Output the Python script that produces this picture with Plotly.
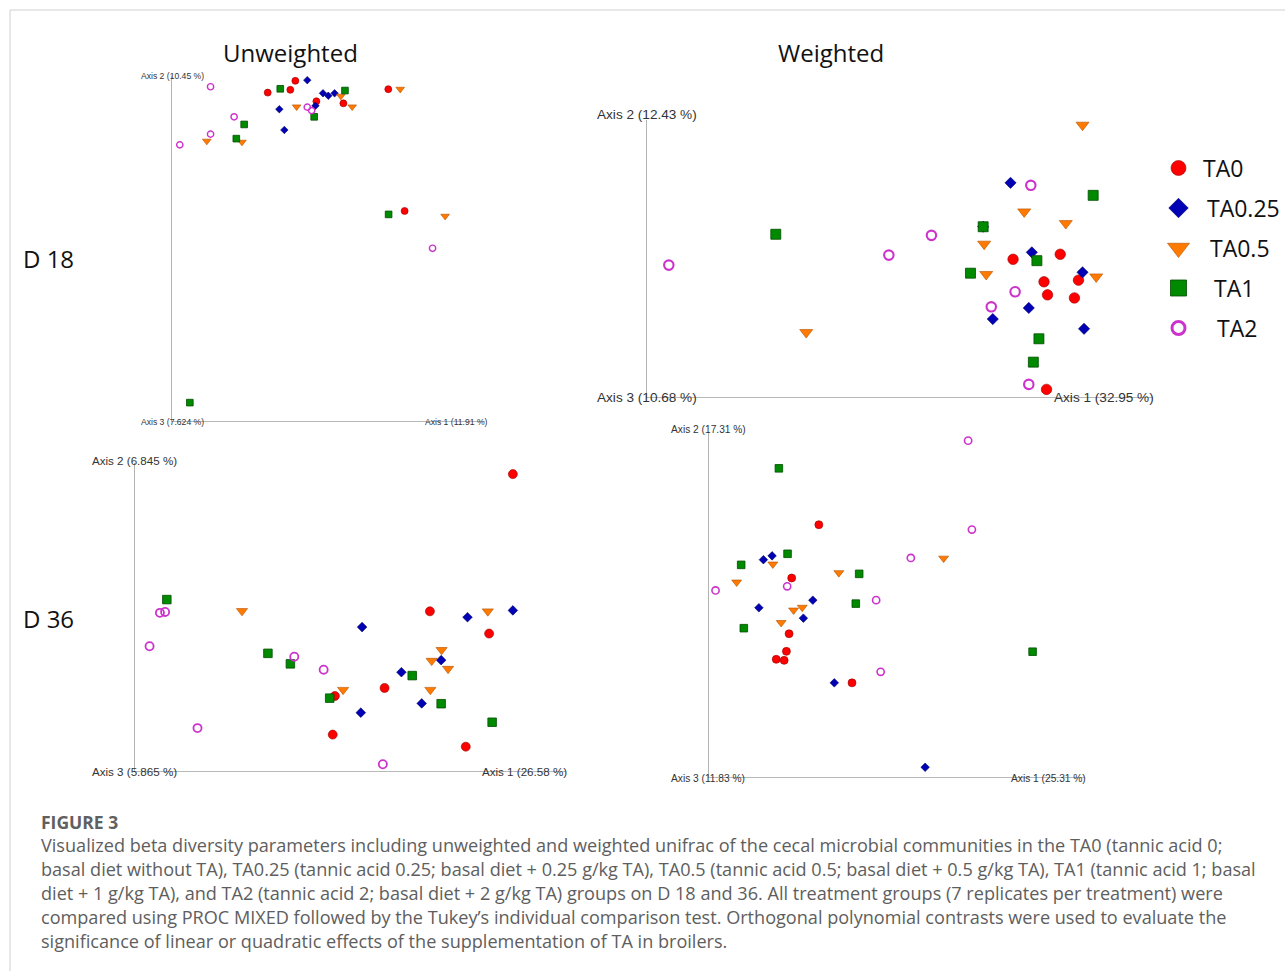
import plotly.graph_objects as go

W, H = 1285, 971

groups = ["TA0", "TA0.25", "TA0.5", "TA1", "TA2"]

# ---- data: PCoA coordinates (Axis 1 = x, Axis 2 = y), scaled to each plot's visible axis length ----
# Panel A: Unweighted, D 18
unw18_x = {
    "TA0":    [0.396, 0.308, 0.380, 0.463, 0.549, 0.692, 0.744],
    "TA0.25": [0.434, 0.484, 0.501, 0.521, 0.460, 0.345, 0.361],
    "TA0.5":  [0.730, 0.541, 0.577, 0.400, 0.114, 0.226, 0.873],
    "TA1":    [0.348, 0.554, 0.456, 0.233, 0.208, 0.693, 0.060],
    "TA2":    [0.126, 0.201, 0.126, 0.028, 0.434, 0.448, 0.833],
}
unw18_y = {
    "TA0":    [0.986, 0.952, 0.960, 0.927, 0.921, 0.962, 0.610],
    "TA0.25": [0.988, 0.950, 0.943, 0.950, 0.914, 0.904, 0.844],
    "TA0.5":  [0.962, 0.942, 0.911, 0.911, 0.812, 0.809, 0.595],
    "TA1":    [0.963, 0.958, 0.882, 0.860, 0.819, 0.600, 0.056],
    "TA2":    [0.969, 0.882, 0.832, 0.801, 0.910, 0.900, 0.502],
}
# Panel B: Weighted, D 18
w18_x = {
    "TA0":    [0.724, 0.817, 0.785, 0.853, 0.792, 0.845, 0.790],
    "TA0.25": [0.719, 0.761, 0.861, 0.755, 0.684, 0.864, 0.665],
    "TA0.5":  [0.861, 0.746, 0.828, 0.667, 0.671, 0.888, 0.316],
    "TA1":    [0.882, 0.665, 0.771, 0.640, 0.775, 0.764, 0.256],
    "TA2":    [0.759, 0.563, 0.479, 0.728, 0.681, 0.755, 0.045],
}
w18_y = {
    "TA0":    [0.499, 0.517, 0.418, 0.424, 0.371, 0.360, 0.031],
    "TA0.25": [0.774, 0.524, 0.452, 0.324, 0.284, 0.249, 0.616],
    "TA0.5":  [0.982, 0.670, 0.628, 0.554, 0.445, 0.436, 0.236],
    "TA1":    [0.729, 0.616, 0.494, 0.449, 0.213, 0.129, 0.589],
    "TA2":    [0.765, 0.585, 0.514, 0.382, 0.328, 0.049, 0.478],
}
# Panel C: Unweighted, D 36
unw36_x = {
    "TA0":    [0.877, 0.685, 0.822, 0.580, 0.465, 0.460, 0.768],
    "TA0.25": [0.528, 0.772, 0.877, 0.711, 0.619, 0.666, 0.525],
    "TA0.5":  [0.819, 0.712, 0.689, 0.727, 0.686, 0.484, 0.250],
    "TA1":    [0.644, 0.711, 0.829, 0.453, 0.076, 0.310, 0.362],
    "TA2":    [0.060, 0.072, 0.036, 0.371, 0.439, 0.147, 0.576],
}
unw36_y = {
    "TA0":    [0.964, 0.520, 0.448, 0.272, 0.246, 0.121, 0.082],
    "TA0.25": [0.469, 0.501, 0.523, 0.362, 0.323, 0.222, 0.192],
    "TA0.5":  [0.520, 0.395, 0.360, 0.334, 0.266, 0.266, 0.521],
    "TA1":    [0.312, 0.221, 0.161, 0.239, 0.558, 0.384, 0.350],
    "TA2":    [0.515, 0.518, 0.407, 0.373, 0.331, 0.142, 0.025],
}
# Panel D: Weighted, D 36
w36_x = {
    "TA0":    [0.294, 0.222, 0.215, 0.208, 0.181, 0.202, 0.382],
    "TA0.25": [0.147, 0.170, 0.278, 0.135, 0.253, 0.335, 0.576],
    "TA0.5":  [0.172, 0.076, 0.347, 0.227, 0.250, 0.194, 0.625],
    "TA1":    [0.188, 0.211, 0.088, 0.401, 0.392, 0.095, 0.861],
    "TA2":    [0.020, 0.210, 0.446, 0.690, 0.700, 0.538, 0.458],
}
w36_y = {
    "TA0":    [0.732, 0.578, 0.417, 0.366, 0.343, 0.340, 0.275],
    "TA0.25": [0.631, 0.642, 0.514, 0.492, 0.462, 0.275, 0.031],
    "TA0.5":  [0.618, 0.566, 0.593, 0.485, 0.493, 0.449, 0.635],
    "TA1":    [0.895, 0.648, 0.616, 0.590, 0.504, 0.433, 0.365],
    "TA2":    [0.542, 0.554, 0.514, 0.975, 0.718, 0.636, 0.307],
}

axis_labels = {
    "unw18": ["Axis 1 (11.91 %)", "Axis 2 (10.45 %)", "Axis 3 (7.624 %)"],
    "w18":   ["Axis 1 (32.95 %)", "Axis 2 (12.43 %)", "Axis 3 (10.68 %)"],
    "unw36": ["Axis 1 (26.58 %)", "Axis 2 (6.845 %)", "Axis 3 (5.865 %)"],
    "w36":   ["Axis 1 (25.31 %)", "Axis 2 (17.31 %)", "Axis 3 (11.83 %)"],
}

# ---- styles ----
style = {
    "TA0":    dict(symbol="circle", color="#FF0000", line=dict(color="#990000", width=0.6), k=1.0),
    "TA0.25": dict(symbol="diamond", color="#0000B4", line=dict(color="#000060", width=0.6), k=0.82),
    "TA0.5":  dict(symbol="triangle-down", color="#FF7A00", line=dict(color="#B35000", width=0.6), k=1.08),
    "TA1":    dict(symbol="square", color="#008A00", line=dict(color="#004D00", width=0.8), k=0.95),
    "TA2":    dict(symbol="circle-open", color="#CC33CC", line=None, k=0.9),
}

# panel geometry in pixels: origin x, right end x, origin y, top y, marker size, label font
panels = [
    dict(key="unw18", xs=unw18_x, ys=unw18_y, x0=171, x1=485, y0=422, y1=76, ms=7.0, fs=8.6,
         lab2=(140, 76), lab3=(140, 422), lab1=(424, 422)),
    dict(key="w18", xs=w18_x, ys=w18_y, x0=646, x1=1153, y0=398, y1=120, ms=10.5, fs=13.6,
         lab2=(596, 115), lab3=(596, 397), lab1=(1053, 397)),
    dict(key="unw36", xs=unw36_x, ys=unw36_y, x0=134, x1=566, y0=772, y1=463, ms=9.0, fs=11.6,
         lab2=(91, 460), lab3=(91, 771), lab1=(481, 771)),
    dict(key="w36", xs=w36_x, ys=w36_y, x0=708, x1=1085, y0=778, y1=432, ms=8.0, fs=10.2,
         lab2=(670, 429), lab3=(670, 778), lab1=(1010, 778)),
]

fig = go.Figure()
layout = {}
shapes = []
annotations = []


def px(x):
    return x / W


def py(y):
    return 1 - y / H


for i, p in enumerate(panels, start=1):
    sfx = "" if i == 1 else str(i)
    xa, ya = "x" + sfx, "y" + sfx
    layout["xaxis" + sfx] = dict(domain=[px(p["x0"]), px(p["x1"])], range=[0, 1], visible=False,
                                 anchor=ya, fixedrange=True)
    layout["yaxis" + sfx] = dict(domain=[py(p["y0"]), py(p["y1"])], range=[0, 1], visible=False,
                                 anchor=xa, fixedrange=True)
    # axes lines (Axis 2 vertical, Axis 1 horizontal)
    shapes.append(dict(type="line", xref=xa, yref=ya, x0=0, x1=0, y0=0, y1=1,
                       line=dict(color="#A0A0A0", width=1.6), layer="below"))
    shapes.append(dict(type="line", xref=xa, yref=ya, x0=0, x1=1, y0=0, y1=0,
                       line=dict(color="#A0A0A0", width=1.6), layer="below"))
    labs = axis_labels[p["key"]]
    for txt, pos in zip(labs, [p["lab1"], p["lab2"], p["lab3"]]):
        annotations.append(dict(text=txt, x=px(pos[0]), y=py(pos[1]), xref="paper", yref="paper",
                                xanchor="left", yanchor="middle", showarrow=False, borderpad=0,
                                font=dict(family="Liberation Sans, Arial", size=p["fs"], color="#333333")))
    for g in groups:
        st = style[g]
        mk = dict(symbol=st["symbol"], color=st["color"], size=p["ms"] * st["k"])
        if st["line"] is not None:
            mk["line"] = st["line"]
        else:
            mk["line"] = dict(color=st["color"], width=max(1.4, p["ms"] * 0.2))
        fig.add_trace(go.Scatter(x=p["xs"][g], y=p["ys"][g], mode="markers", marker=mk,
                                 xaxis=xa, yaxis=ya, showlegend=False, cliponaxis=False,
                                 name=g))

# ---- legend (custom) ----
leg_rows = [0, 1, 2, 3, 4]
layout["xaxis5"] = dict(domain=[px(1166), px(1191)], range=[0, 1], visible=False, anchor="y5", fixedrange=True)
layout["yaxis5"] = dict(domain=[py(348), py(148)], range=[4.5, -0.5], visible=False, anchor="x5", fixedrange=True)
leg_sizes = {"TA0": 15, "TA0.25": 15, "TA0.5": 19, "TA1": 16, "TA2": 13}
for g, r in zip(groups, leg_rows):
    st = style[g]
    mk = dict(symbol=st["symbol"], color=st["color"], size=leg_sizes[g])
    mk["line"] = st["line"] if st["line"] is not None else dict(color=st["color"], width=3)
    fig.add_trace(go.Scatter(x=[0.5], y=[r], mode="markers", marker=mk, xaxis="x5", yaxis="y5",
                             showlegend=False, cliponaxis=False, name=g))
leg_text_x = [1202, 1206, 1209, 1213, 1216]
for g, r, tx in zip(groups, leg_rows, leg_text_x):
    annotations.append(dict(text=g, x=px(tx), y=py(168 + 40 * r), xref="paper", yref="paper",
                            xanchor="left", yanchor="middle", showarrow=False, borderpad=0,
                            font=dict(family="Open Sans", size=23, color="#111111")))

# ---- titles & row labels ----
for txt, x, y, anc in [("Unweighted", 290, 53, "center"), ("Weighted", 831, 53, "center"),
                       ("D 18", 22, 258, "left"), ("D 36", 22, 618, "left")]:
    annotations.append(dict(text=txt, x=px(x), y=py(y), xref="paper", yref="paper",
                            xanchor=anc, yanchor="middle", showarrow=False, borderpad=0,
                            font=dict(family="Open Sans", size=24, color="#111111")))

# ---- caption ----
caption_lines = [
    "Visualized beta diversity parameters including unweighted and weighted unifrac of the cecal microbial communities in the TA0 (tannic acid 0;",
    "basal diet without TA), TA0.25 (tannic acid 0.25; basal diet + 0.25 g/kg TA), TA0.5 (tannic acid 0.5; basal diet + 0.5 g/kg TA), TA1 (tannic acid 1; basal",
    "diet + 1 g/kg TA), and TA2 (tannic acid 2; basal diet + 2 g/kg TA) groups on D 18 and 36. All treatment groups (7 replicates per treatment) were",
    "compared using PROC MIXED followed by the Tukey\u2019s individual comparison test. Orthogonal polynomial contrasts were used to evaluate the",
    "significance of linear or quadratic effects of the supplementation of TA in broilers.",
]
annotations.append(dict(text="<b>FIGURE 3</b>", x=px(40), y=py(822), xref="paper", yref="paper",
                        xanchor="left", yanchor="middle", showarrow=False, borderpad=0,
                        font=dict(family="Open Sans", size=17.5, color="#606060")))
for k, line in enumerate(caption_lines):
    annotations.append(dict(text=line, x=px(40), y=py(845 + 24 * k), xref="paper", yref="paper",
                            xanchor="left", yanchor="middle", showarrow=False, borderpad=0,
                            font=dict(family="Open Sans", size=18.1, color="#5e5e5e")))

# ---- frame ----
shapes.append(dict(type="line", xref="paper", yref="paper", x0=px(10), x1=1, y0=py(10), y1=py(10),
                   line=dict(color="#D0D0D0", width=1)))
shapes.append(dict(type="line", xref="paper", yref="paper", x0=px(10), x1=px(10), y0=py(10), y1=0,
                   line=dict(color="#D0D0D0", width=1)))

fig.update_layout(width=W, height=H, margin=dict(l=0, r=0, t=0, b=0), plot_bgcolor="white",
                  paper_bgcolor="white", shapes=shapes, annotations=annotations, showlegend=False,
                  **layout)
fig.write_html("out.html", config=dict(displayModeBar=False))
